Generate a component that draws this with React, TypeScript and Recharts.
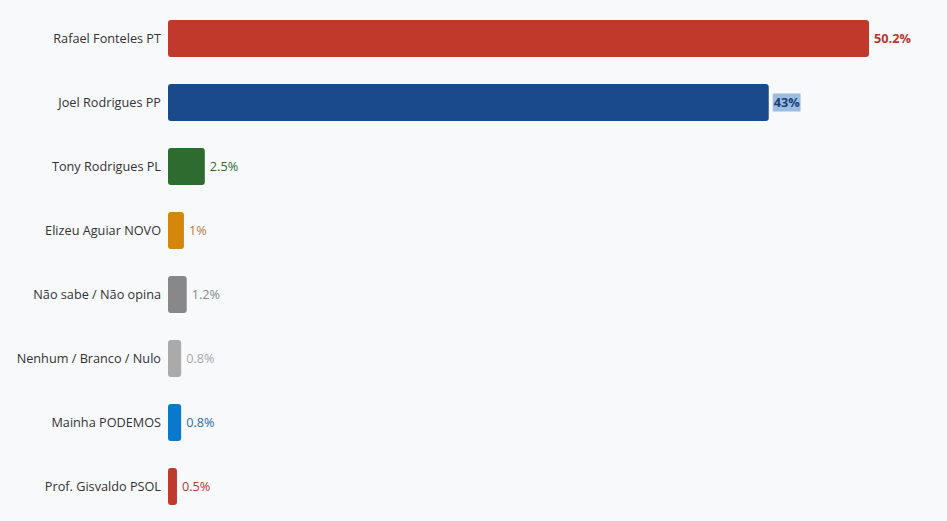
import React from "react";
import { BarChart, Bar, XAxis, YAxis, Cell, LabelList } from "recharts";

const categories = [
  "Rafael Fonteles PT",
  "Joel Rodrigues PP",
  "Tony Rodrigues PL",
  "Elizeu Aguiar NOVO",
  "Não sabe / Não opina",
  "Nenhum / Branco / Nulo",
  "Mainha PODEMOS",
  "Prof. Gisvaldo PSOL",
];
const values = [50.2, 43, 2.5, 1, 1.2, 0.8, 0.8, 0.5];
const labels = ["50.2%", "43%", "2.5%", "1%", "1.2%", "0.8%", "0.8%", "0.5%"];
const barColors = ["#c0392b", "#1a4a8a", "#2e6b2e", "#d4870a", "#888888", "#aaaaaa", "#0a78cc", "#c0392b"];
const labelColors = ["#b8372c", "#1a3f78", "#2e6b2e", "#c77a35", "#888888", "#aaaaaa", "#2a6cb0", "#b8372c"];
const boldLabels = [true, true, false, false, false, false, false, false];

const data = categories.map((name, i) => ({ name, value: values[i], label: labels[i], idx: i }));

if (typeof document !== "undefined") {
  document.body.style.margin = "0";
  document.body.style.background = "#f8f9fb";
}

const ValueLabel = (props: any) => {
  const { x, y, width, height, index } = props;
  const i = index as number;
  const tx = x + width + 6;
  const ty = y + height / 2;
  const text = labels[i];
  return (
    <g>
      {i === 1 && (
        <rect x={tx - 1} y={ty - 9} width={text.length * 8.6 + 2} height={18} fill="#9cbde0" />
      )}
      <text
        x={tx}
        y={ty}
        dy="0.35em"
        fill={labelColors[i]}
        fontSize={12.7}
        fontWeight={boldLabels[i] ? 700 : 400}
        fontFamily="'Open Sans', sans-serif"
      >
        {text}
      </text>
    </g>
  );
};

export default function App() {
  return (
    <div style={{ width: 947, height: 521, background: "#f8f9fb", fontFamily: "'Open Sans', sans-serif" }}>
      <BarChart
        width={947}
        height={521}
        data={data}
        layout="vertical"
        margin={{ top: 6, right: 79, bottom: 3, left: 0 }}
        barSize={35}
      >
        <XAxis type="number" domain={[0, 50.2]} hide />
        <YAxis
          type="category"
          dataKey="name"
          width={169}
          axisLine={false}
          tickLine={false}
          tick={{ fill: "#333333", fontSize: 12.7, fontFamily: "'Open Sans', sans-serif" }}
        />
        <Bar dataKey="value" isAnimationActive={false} radius={[2, 2, 2, 2]} strokeWidth={2}>
          {data.map((d, i) => (
            <Cell key={i} fill={barColors[i]} stroke={barColors[i]} />
          ))}
          <LabelList dataKey="label" content={<ValueLabel />} />
        </Bar>
      </BarChart>
    </div>
  );
}
